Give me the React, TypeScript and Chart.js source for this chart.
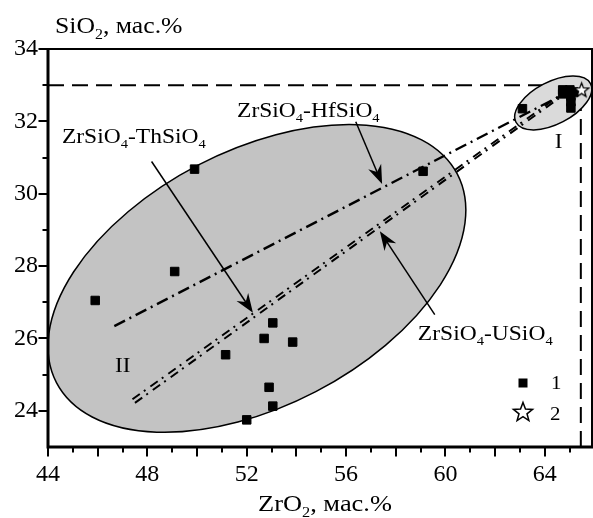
import React, { useEffect, useRef } from 'react';
import { Chart, registerables } from 'chart.js';

Chart.register(...registerables);

const FONT = "'Liberation Serif', 'Times New Roman', serif";

// ---- data (ZrO2, SiO2 in wt.%) ----
const series1ZrO2 = [45.9, 49.1, 49.9, 51.15, 52.0, 52.7, 52.9, 53.05, 53.05, 53.85, 59.1, 63.1, 64.72, 65.01, 64.72, 65.05, 65.05, 65.05, 65.17];
const series1SiO2 = [27.05, 27.85, 30.68, 25.55, 23.75, 26.0, 24.65, 24.13, 26.43, 25.9, 30.62, 32.35, 32.87, 32.87, 32.76, 32.7, 32.54, 32.37, 32.81];
const series2ZrO2 = [65.48];
const series2SiO2 = [32.87];

// trend lines (start, end) in data units
const lineHfZrO2 = [46.67, 64.9];
const lineHfSiO2 = [26.34, 32.8];
const lineThZrO2 = [47.5, 64.9];
const lineThSiO2 = [24.22, 32.8];
const lineUZrO2 = [47.4, 64.85];
const lineUSiO2 = [24.32, 32.84];

// reference dashed lines
const refSiO2 = 33;
const refZrO2 = 65.45;

// field ellipses: center, conjugate semi-axis vectors (data units)
const ellipseII = { cx: 52.41, cy: 27.66, ux: 8.07, uy: 2.88, vx: -2.37, vy: 3.13 };
const ellipseI = { cx: 64.34, cy: 32.51, ux: 1.5, uy: 0.535, vx: -0.394, vy: 0.519 };

// arrows: [fromX, fromY, toX, toY]
const arrows = [
  [48.17, 30.89, 52.25, 26.71],
  [56.39, 31.99, 57.45, 30.27],
  [59.57, 26.66, 57.36, 28.96],
];

// labels: [text, x, y (baseline)]
const labels: [string, number, number][] = [
  ['ZrSiO_4-ThSiO_4', 44.56, 31.41],
  ['ZrSiO_4-HfSiO_4', 51.61, 32.12],
  ['ZrSiO_4-USiO_4', 58.89, 25.97],
];
const fieldLabels: [string, number, number][] = [
  ['I', 64.4, 31.27],
  ['II', 46.7, 25.06],
];

const xTickLabels = [44, 48, 52, 56, 60, 64];
const yTickLabels = [24, 26, 28, 30, 32, 34];

function segs(s: string): [string, boolean][] {
  const out: [string, boolean][] = [];
  const parts = s.split(/_(\d)/);
  parts.forEach((p, i) => {
    if (p) out.push([p, i % 2 === 1]);
  });
  return out;
}

function drawRich(ctx: CanvasRenderingContext2D, s: string, x: number, y: number, size: number, sx: number) {
  ctx.save();
  ctx.translate(x, y);
  ctx.scale(sx, 1);
  ctx.fillStyle = '#000';
  ctx.textAlign = 'left';
  ctx.textBaseline = 'alphabetic';
  let cx = 0;
  for (const [t, sub] of segs(s)) {
    const fs = sub ? size * 0.62 : size;
    ctx.font = `${fs}px ${FONT}`;
    ctx.fillText(t, cx, sub ? size * 0.24 : 0);
    cx += ctx.measureText(t).width;
  }
  ctx.restore();
}

function starPath(ctx: CanvasRenderingContext2D, x: number, y: number, R: number, r: number) {
  ctx.beginPath();
  for (let i = 0; i < 10; i++) {
    const a = -Math.PI / 2 + (i * Math.PI) / 5;
    const rr = i % 2 === 0 ? R : r;
    const px = x + rr * Math.cos(a);
    const py = y + rr * Math.sin(a);
    if (i === 0) ctx.moveTo(px, py);
    else ctx.lineTo(px, py);
  }
  ctx.closePath();
}

function makeStar(R: number) {
  const c = document.createElement('canvas');
  const s = Math.ceil(R * 2 + 4);
  c.width = s;
  c.height = s;
  const ctx = c.getContext('2d')!;
  starPath(ctx, s / 2, s / 2 + 0.5, R, R * 0.42);
  ctx.fillStyle = '#fff';
  ctx.fill();
  ctx.lineWidth = 1.3;
  ctx.strokeStyle = '#000';
  ctx.stroke();
  return c;
}

function drawEllipse(chart: any, e: any, fill: string) {
  const { ctx } = chart;
  const xs = chart.scales.x;
  const ys = chart.scales.y;
  const cxp = xs.getPixelForValue(e.cx);
  const cyp = ys.getPixelForValue(e.cy);
  const sx = xs.getPixelForValue(e.cx + 1) - cxp;
  const sy = ys.getPixelForValue(e.cy + 1) - cyp;
  ctx.save();
  ctx.beginPath();
  ctx.save();
  ctx.transform(e.ux * sx, e.uy * sy, e.vx * sx, e.vy * sy, cxp, cyp);
  ctx.arc(0, 0, 1, 0, Math.PI * 2);
  ctx.restore();
  ctx.fillStyle = fill;
  ctx.fill();
  ctx.lineWidth = 1.5;
  ctx.strokeStyle = '#000';
  ctx.stroke();
  ctx.restore();
}

function drawArrow(ctx: CanvasRenderingContext2D, x1: number, y1: number, x2: number, y2: number) {
  const ang = Math.atan2(y2 - y1, x2 - x1);
  const dx = Math.cos(ang), dy = Math.sin(ang);
  const px = -dy, py = dx;
  const L = 19, W = 7, N = 13;
  ctx.save();
  ctx.strokeStyle = '#000';
  ctx.fillStyle = '#000';
  ctx.lineWidth = 1.5;
  ctx.beginPath();
  ctx.moveTo(x1, y1);
  ctx.lineTo(x2 - dx * N, y2 - dy * N);
  ctx.stroke();
  ctx.beginPath();
  ctx.moveTo(x2, y2);
  ctx.lineTo(x2 - dx * L + px * W, y2 - dy * L + py * W);
  ctx.lineTo(x2 - dx * N, y2 - dy * N);
  ctx.lineTo(x2 - dx * L - px * W, y2 - dy * L - py * W);
  ctx.closePath();
  ctx.fill();
  ctx.restore();
}

const annotPlugin = {
  id: 'annot',
  beforeDatasetDraw(chart: any, args: any) {
    if (args.meta && args.meta.order === 5) {
      drawEllipse(chart, ellipseII, '#c3c3c3');
      drawEllipse(chart, ellipseI, '#dadada');
    }
  },
  afterDatasetsDraw(chart: any) {
    const { ctx } = chart;
    const xs = chart.scales.x;
    const ys = chart.scales.y;
    for (const a of arrows) {
      drawArrow(ctx, xs.getPixelForValue(a[0]), ys.getPixelForValue(a[1]), xs.getPixelForValue(a[2]), ys.getPixelForValue(a[3]));
    }
    for (const [t, x, y] of labels) {
      drawRich(ctx, t, xs.getPixelForValue(x), ys.getPixelForValue(y), 21, 1.12);
    }
    for (const [t, x, y] of fieldLabels) {
      drawRich(ctx, t, xs.getPixelForValue(x), ys.getPixelForValue(y), 22, 1.05);
    }
  },
  afterDraw(chart: any) {
    const { ctx, chartArea } = chart;
    const { left, right, top, bottom } = chartArea;
    const xs = chart.scales.x;
    const ys = chart.scales.y;
    ctx.save();
    ctx.strokeStyle = '#000';
    ctx.lineWidth = 2;
    ctx.beginPath();
    ctx.moveTo(left, top);
    ctx.lineTo(right, top);
    ctx.lineTo(right, bottom);
    ctx.stroke();
    ctx.lineWidth = 3;
    ctx.beginPath();
    ctx.moveTo(left, top - 1);
    ctx.lineTo(left, bottom);
    ctx.lineTo(right + 1, bottom);
    ctx.stroke();
    ctx.lineWidth = 2;
    ctx.beginPath();
    for (const t of xs.ticks) {
      const v = t.value;
      if (Math.abs(v - Math.round(v)) > 1e-6) continue;
      const p = Math.round(xs.getPixelForValue(v));
      const len = Math.round(v) % 2 === 0 ? 8 : 4;
      ctx.moveTo(p, bottom);
      ctx.lineTo(p, bottom + 1.5 + len);
    }
    for (const t of ys.ticks) {
      const v = t.value;
      if (Math.abs(v - Math.round(v)) > 1e-6) continue;
      if (v === ys.min) continue;
      const p = Math.round(ys.getPixelForValue(v));
      const len = Math.round(v) % 2 === 0 ? 8 : 4;
      ctx.moveTo(left, p);
      ctx.lineTo(left - 1.5 - len, p);
    }
    ctx.stroke();
    ctx.restore();

    drawRich(ctx, 'SiO_2, мас.%', 55, 33, 24, 1.07);
    drawRich(ctx, 'ZrO_2, мас.%', 258, 511, 24, 1.1);

    const lx = right - 69;
    ctx.save();
    ctx.fillStyle = '#000';
    ctx.fillRect(lx - 4.5, bottom - 64 - 4.5, 9, 9);
    starPath(ctx, lx, bottom - 34.5, 10, 4.2);
    ctx.fillStyle = '#fff';
    ctx.fill();
    ctx.lineWidth = 1.5;
    ctx.strokeStyle = '#000';
    ctx.stroke();
    ctx.restore();
    const ds = chart.data.datasets;
    drawRich(ctx, String(ds[5].label), right - 41, bottom - 58, 19, 1.1);
    drawRich(ctx, String(ds[6].label), right - 42, bottom - 27, 19, 1.1);
  },
};

function pts(xs: number[], ys: number[]) {
  return xs.map((x, i) => ({ x, y: ys[i] }));
}

export default function App() {
  const ref = useRef<HTMLCanvasElement | null>(null);
  useEffect(() => {
    if (!ref.current) return;
    const star = makeStar(7.5);
    const lineBase = { showLine: true, pointRadius: 0, borderColor: '#000', fill: false, tension: 0 };
    const chart = new Chart(ref.current, {
      type: 'scatter',
      data: {
        datasets: [
          { ...lineBase, label: 'refH', order: 7, borderWidth: 2, borderDash: [16, 8], data: [{ x: 44, y: refSiO2 }, { x: refZrO2, y: refSiO2 }] },
          { ...lineBase, label: 'refV', order: 6, borderWidth: 2, borderDash: [16, 8], data: [{ x: refZrO2, y: 23 }, { x: refZrO2, y: refSiO2 }] },
          { ...lineBase, label: 'ZrSiO4-USiO4', order: 5, borderWidth: 2, borderDash: [9, 5, 2, 6], data: pts(lineUZrO2, lineUSiO2) },
          { ...lineBase, label: 'ZrSiO4-ThSiO4', order: 4, borderWidth: 2, borderDash: [9, 5, 2, 6], data: pts(lineThZrO2, lineThSiO2) },
          { ...lineBase, label: 'ZrSiO4-HfSiO4', order: 3, borderWidth: 2.4, borderDash: [12, 5, 2, 5], data: pts(lineHfZrO2, lineHfSiO2) },
          { label: '1', order: 2, pointStyle: 'rect', pointRadius: 6, backgroundColor: '#000', borderColor: '#000', borderWidth: 1, data: pts(series1ZrO2, series1SiO2) },
          { label: '2', order: 1, pointStyle: star as any, pointRadius: 8, data: pts(series2ZrO2, series2SiO2) },
        ] as any,
      },
      options: {
        responsive: false,
        animation: false,
        events: [],
        layout: { autoPadding: false, padding: { left: 0, top: 49, right: 1, bottom: 0 } },
        plugins: { legend: { display: false }, tooltip: { enabled: false } },
        scales: {
          x: {
            type: 'linear',
            min: 44,
            max: 65.9,
            afterFit(s: any) { s.height = 71; },
            grid: { display: false, drawTicks: false },
            border: { display: false },
            ticks: {
              stepSize: 1,
              autoSkip: false,
              maxRotation: 0,
              includeBounds: false,
              padding: 13,
              color: '#000',
              font: { family: FONT, size: 24 },
              callback: (v: any) => (xTickLabels.includes(Number(v)) ? String(v) : ''),
            },
          },
          y: {
            type: 'linear',
            min: 23,
            max: 34,
            afterFit(s: any) { s.width = 48; },
            grid: { display: false, drawTicks: false },
            border: { display: false },
            ticks: {
              stepSize: 1,
              autoSkip: false,
              includeBounds: false,
              padding: 10,
              color: '#000',
              font: { family: FONT, size: 24 },
              callback: (v: any) => (yTickLabels.includes(Number(v)) ? String(v) : ''),
            },
          },
        },
      },
      plugins: [annotPlugin],
    });
    return () => chart.destroy();
  }, []);
  return (
    <div style={{ position: 'fixed', left: 0, top: 0, width: 593, height: 518, background: '#fff' }}>
      <canvas ref={ref} width={593} height={518} style={{ display: 'block', width: 593, height: 518 }} />
    </div>
  );
}
